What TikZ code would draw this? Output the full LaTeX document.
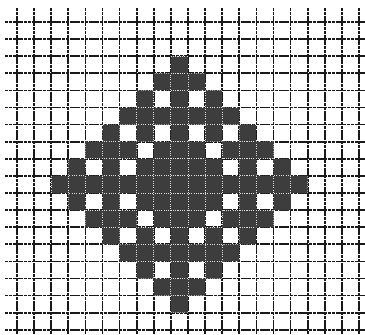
\documentclass[tikz,border=0pt]{standalone}
\begin{document}
\begin{tikzpicture}[x=1pt, y=-1pt,
    gridline/.style={draw=black!90, line width=1.7pt, dash pattern=on 3.2pt off 0.6pt},
    darkcell/.style={fill=black!76},
    seam/.style={draw=white!85!black, line width=0.9pt, dash pattern=on 1pt off 1.3pt}]
  \def\cs{17.1}
  \def\motif{2/{9}, 3/{8,9,10}, 4/{7,9,11}, 5/{6,...,12}, 6/{5,7,9,11,13},
    7/{4,5,6,8,9,10,12,13,14}, 8/{3,5,7,8,9,10,11,13,15}, 9/{2,...,16},
    10/{3,5,7,8,9,10,11,13,15}, 11/{4,5,6,8,9,10,12,13,14}, 12/{5,7,9,11,13},
    13/{6,...,12}, 14/{7,9,11}, 15/{8,9,10}, 16/{9}}
  \fill[white] (0,0) rectangle (365,335);
  \useasboundingbox (0,0) rectangle (365,335);
  % grid
  \foreach \i in {0,...,20}
    \draw[gridline] (17+\cs*\i, 8) -- (17+\cs*\i, 335);
  \foreach \j in {0,...,18}
    \draw[gridline] (5, 22+\cs*\j) -- (365, 22+\cs*\j);
  % diamond motif
  \foreach \r/\cl in \motif {
    \foreach \c in \cl
      \fill[darkcell] (17+\cs*\c, 22+\cs*\r) rectangle ++(\cs,\cs);
  }
  % light seams inside the dark cells
  \begin{scope}
    \clip \foreach \r/\cl in \motif {
      \foreach \c in \cl { (17+\cs*\c, 22+\cs*\r) rectangle ++(\cs,\cs) }
    };
    \foreach \i in {0,...,20}
      \draw[seam] (17+\cs*\i, 8) -- (17+\cs*\i, 335);
    \foreach \j in {0,...,18}
      \draw[seam] (5, 22+\cs*\j) -- (365, 22+\cs*\j);
  \end{scope}
\end{tikzpicture}
\end{document}
